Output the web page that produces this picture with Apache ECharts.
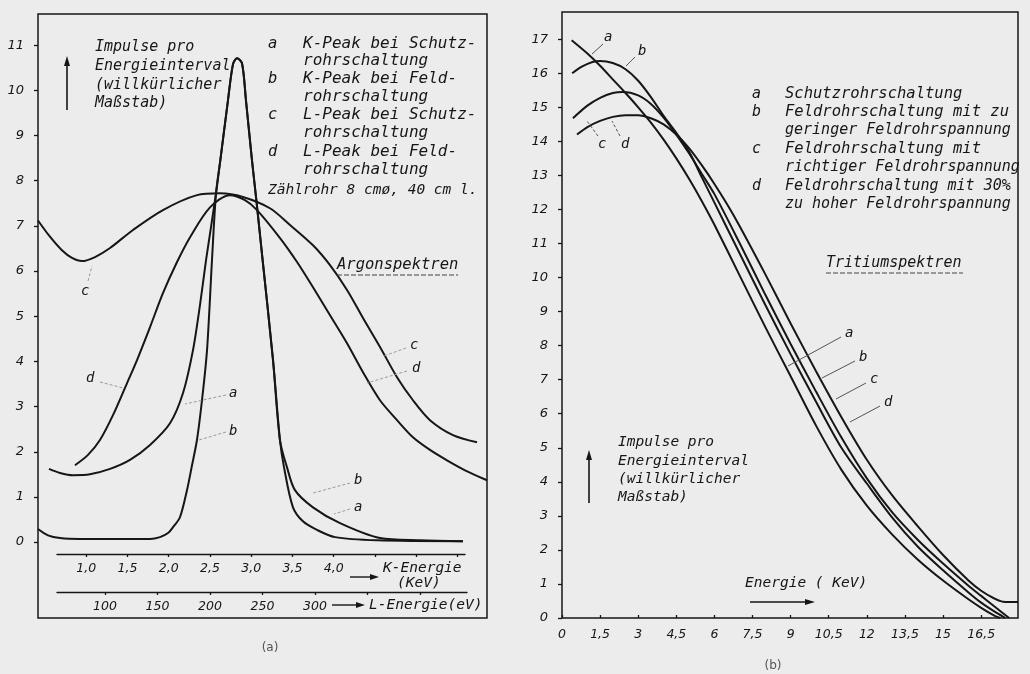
<!DOCTYPE html>
<html><head><meta charset="utf-8">
<script src="https://cdn.jsdelivr.net/npm/echarts@6/dist/echarts.min.js"></script>
<style>html,body{margin:0;padding:0;background:#ececec}#c{width:1030px;height:674px}</style>
</head><body><div id="c"></div><script>
// ---------- DATA (left: Argon spectra) ----------
// K-peaks in K-energy (keV) units
const argonKPeakA = [[0.548,1.62],[0.682,1.53],[0.839,1.48],[1.045,1.50],[1.288,1.62],[1.530,1.82],[1.773,2.15],[2.015,2.63],[2.173,3.30],[2.294,4.25],[2.379,5.25],[2.452,6.24],[2.573,7.72],[2.625,8.45],[2.718,9.78],[2.779,10.58],[2.827,10.71],[2.888,10.60],[2.936,9.78],[3.009,8.45],[3.062,7.57],[3.138,6.24],[3.264,4.03],[3.348,2.26],[3.397,1.66],[3.506,0.77],[3.627,0.46],[3.797,0.27],[4.015,0.11],[4.524,0.04],[5.567,0.02]];
const argonKPeakB = [[0.415,0.29],[0.536,0.15],[0.682,0.09],[0.924,0.07],[1.530,0.07],[1.773,0.07],[1.894,0.11],[1.991,0.20],[2.052,0.33],[2.136,0.55],[2.221,1.15],[2.282,1.70],[2.342,2.26],[2.403,3.14],[2.464,4.25],[2.524,6.24],[2.573,7.72],[2.625,8.45],[2.718,9.78],[2.779,10.58],[2.827,10.71],[2.888,10.60],[2.936,9.78],[3.009,8.45],[3.062,7.57],[3.138,6.24],[3.264,4.03],[3.348,2.26],[3.433,1.66],[3.530,1.15],[3.748,0.77],[4.076,0.42],[4.561,0.09],[5.045,0.04],[5.567,0.02]];
// L-peaks in L-energy (eV) units
const argonLPeakC = [[36.2,7.12],[47.6,6.76],[59.0,6.46],[68.6,6.29],[78.1,6.22],[90.5,6.31],[104.8,6.51],[126.7,6.91],[155.2,7.35],[187.6,7.68],[209.5,7.72],[231.4,7.64],[257.1,7.39],[276.2,7.02],[298.1,6.57],[314.3,6.13],[330.5,5.58],[345.7,4.96],[361.9,4.32],[378.1,3.65],[393.3,3.14],[409.5,2.70],[431.4,2.37],[454.3,2.21]];
const argonLPeakD = [[71.4,1.70],[83.8,1.93],[95.2,2.26],[107.6,2.81],[121.0,3.52],[130.5,4.03],[142.9,4.76],[155.2,5.51],[168.6,6.20],[181.0,6.75],[200.0,7.41],[219.0,7.68],[233.3,7.57],[244.8,7.35],[266.7,6.73],[282.9,6.20],[298.1,5.64],[314.3,5.02],[330.5,4.40],[345.7,3.76],[361.9,3.14],[378.1,2.70],[393.3,2.32],[409.5,2.04],[425.7,1.81],[442.9,1.59],[463.8,1.37]];
const argonYTicks = [0,1,2,3,4,5,6,7,8,9,10,11];
const kEnergyTicks = [1,1.5,2,2.5,3,3.5,4,4.5,5,5.5];
const kEnergyLabels = [1,1.5,2,2.5,3,3.5,4];
const lEnergyTicks = [100,150,200,250,300,350,400];
const lEnergyLabels = [100,150,200,250,300];

// ---------- DATA (right: Tritium spectra) ----------
const tritiumA = [[0.38,16.97],[1.0,16.58],[1.5,16.22],[2.0,15.82],[2.5,15.42],[3.0,15.0],[3.5,14.55],[4.0,14.05],[4.5,13.5],[5.0,12.9],[5.5,12.25],[6.0,11.55],[7.0,10.05],[8.0,8.55],[9.0,7.1],[10.0,5.65],[11.0,4.35],[12.0,3.3],[13.0,2.45],[14.0,1.72],[15.0,1.1],[16.0,0.55],[16.5,0.3],[17.0,0.08],[17.25,0]];
const tritiumB = [[0.4,16.0],[0.8,16.2],[1.2,16.33],[1.5,16.36],[2.0,16.3],[2.5,16.12],[3.0,15.78],[3.5,15.3],[4.0,14.75],[4.5,14.25],[5.0,13.7],[5.5,12.95],[6.0,12.2],[7.0,10.7],[8.0,9.2],[9.0,7.75],[10.0,6.35],[11.0,5.0],[12.0,3.95],[13.0,2.95],[14.0,2.1],[15.0,1.4],[16.0,0.75],[16.5,0.45],[17.0,0.2],[17.45,0]];
const tritiumC = [[0.43,14.68],[1.0,15.05],[1.5,15.28],[2.0,15.42],[2.4,15.45],[3.0,15.35],[3.5,15.1],[4.0,14.7],[4.5,14.2],[5.0,13.65],[5.5,13.05],[6.0,12.45],[7.0,11.0],[8.0,9.5],[9.0,8.05],[10.0,6.65],[11.0,5.3],[12.0,4.1],[13.0,3.1],[14.0,2.3],[15.0,1.6],[16.0,0.95],[16.5,0.65],[17.0,0.35],[17.6,0]];
const tritiumD = [[0.59,14.2],[1.0,14.42],[1.5,14.6],[2.0,14.72],[2.5,14.77],[3.0,14.77],[3.5,14.68],[4.0,14.5],[4.5,14.2],[5.0,13.8],[5.5,13.3],[6.0,12.75],[6.5,12.15],[7.0,11.5],[8.0,10.1],[9.0,8.65],[10.0,7.25],[11.0,5.9],[12.0,4.65],[13.0,3.6],[14.0,2.7],[15.0,1.85],[16.0,1.1],[16.5,0.8],[17.0,0.58],[17.36,0.48],[17.95,0.47]];
const tritiumXTicks = [0,1.5,3,4.5,6,7.5,9,10.5,12,13.5,15,16.5];
const tritiumYTicks = [0,1,2,3,4,5,6,7,8,9,10,11,12,13,14,15,16,17];

// ---------- STYLE ----------
const INK = '#161616';
const MONO = '"DejaVu Sans Mono", monospace';
const NUM = '"DejaVu Sans", sans-serif';
const numLabel = (extra) => Object.assign({color: INK, fontFamily: NUM, fontStyle: 'italic', fontSize: 12.5}, extra);
const comma1 = v => v.toFixed(1).replace('.', ',');
const commaAuto = v => String(v).replace('.', ',');

// ---------- annotations ----------
const G = [];
function T(x, y, s, size, extra) {
  G.push({type: 'text', x: x, y: y, silent: true, z: 10,
    style: Object.assign({text: s, fontSize: size || 15, fontFamily: MONO, fontStyle: 'italic',
      fill: INK, verticalAlign: 'middle', align: 'left'}, extra || {})});
}
function Ln(x1, y1, x2, y2, w, dash, col) {
  G.push({type: 'line', silent: true, z: 10, shape: {x1: x1, y1: y1, x2: x2, y2: y2},
    style: {stroke: col || INK, lineWidth: w || 1.2, lineDash: dash || null}});
}
function Head(pts) { G.push({type: 'polygon', silent: true, z: 10, shape: {points: pts}, style: {fill: INK}}); }

// Left panel: axis title block
Ln(67, 110, 67, 64, 1.6); Head([[67, 56], [64, 66], [70, 66]]);
T(95, 47, 'Impulse pro', 15); T(95, 66, 'Energieinterval', 15);
T(95, 85, '(willkürlicher', 15); T(95, 103, 'Maßstab)', 15);
// Left legend
T(268, 44, 'a', 15.5); T(303, 44, 'K-Peak bei Schutz-', 16);
T(303, 61, 'rohrschaltung', 16);
T(268, 79, 'b', 15.5); T(303, 79, 'K-Peak bei Feld-', 16);
T(303, 97, 'rohrschaltung', 16);
T(268, 115, 'c', 15.5); T(303, 115, 'L-Peak bei Schutz-', 16);
T(303, 133, 'rohrschaltung', 16);
T(268, 152, 'd', 15.5); T(303, 152, 'L-Peak bei Feld-', 16);
T(303, 170, 'rohrschaltung', 16);
T(268, 190, 'Zählrohr 8 cmø, 40 cm l.', 14.5);
T(337, 265, 'Argonspektren', 15.5); Ln(337, 275, 458, 275, 1.1, [5, 2], '#444');
// Left curve labels + leaders
const leadL = '#9a9a9a';
T(81, 291, 'c', 14); Ln(88, 281, 92, 266, 1, [3, 2], leadL);
T(86, 378, 'd', 14); Ln(100, 382, 123, 388, 1, [3, 2], leadL);
T(229, 393, 'a', 14); Ln(226, 395, 185, 404, 1, [3, 2], leadL);
T(229, 431, 'b', 14); Ln(226, 432, 199, 440, 1, [3, 2], leadL);
T(410, 345, 'c', 14); Ln(406, 348, 384, 356, 1, [3, 2], leadL);
T(412, 368, 'd', 14); Ln(407, 371, 367, 383, 1, [3, 2], leadL);
T(354, 480, 'b', 14); Ln(350, 483, 313, 493, 1, [3, 2], leadL);
T(354, 507, 'a', 14); Ln(350, 509, 334, 514, 1, [3, 2], leadL);
// Left bottom axis titles
Ln(350, 577, 371, 577, 1.4); Head([[379, 577], [370, 574], [370, 580]]);
T(383, 568, 'K-Energie', 14.5); T(397, 583, '(KeV)', 14.5);
Ln(332, 605, 357, 605, 1.4); Head([[365, 605], [356, 602], [356, 608]]);
T(369, 605, 'L-Energie(eV)', 14.5);
T(270, 648, '(a)', 12, {fontFamily: NUM, fontStyle: 'normal', fill: '#555', align: 'center'});

// Right panel legend
T(752, 94, 'a', 15); T(785, 94, 'Schutzrohrschaltung', 15.5);
T(752, 112, 'b', 15); T(785, 112, 'Feldrohrschaltung mit zu', 15.5);
T(785, 130, 'geringer Feldrohrspannung', 15);
T(752, 149, 'c', 15); T(785, 149, 'Feldrohrschaltung mit', 15.5);
T(785, 167, 'richtiger Feldrohrspannung', 15);
T(752, 186, 'd', 15); T(785, 186, 'Feldrohrschaltung mit 30%', 15);
T(785, 204, 'zu hoher Feldrohrspannung', 15);
T(826, 263, 'Tritiumspektren', 15); Ln(826, 273, 963, 273, 1.1, [5, 2], '#444');
// Right curve labels + leaders
const leadR = '#555';
T(604, 37, 'a', 14); Ln(603, 44, 592, 54, 1, null, leadR);
T(638, 51, 'b', 14); Ln(635, 57, 626, 66, 1, null, leadR);
T(598, 144, 'c', 14); Ln(598, 136, 587, 121, 1, [3, 2], leadR);
T(621, 144, 'd', 14); Ln(620, 136, 612, 121, 1, [3, 2], leadR);
T(845, 333, 'a', 14); Ln(841, 337, 788, 366, 1, null, leadR);
T(859, 357, 'b', 14); Ln(855, 361, 822, 378, 1, null, leadR);
T(870, 379, 'c', 14); Ln(866, 383, 836, 399, 1, null, leadR);
T(884, 402, 'd', 14); Ln(880, 406, 850, 422, 1, null, leadR);
// Right axis title block
Ln(589, 503, 589, 459, 1.6); Head([[589, 450], [586, 460], [592, 460]]);
T(618, 442, 'Impulse pro', 14.5); T(618, 461, 'Energieinterval', 14.5);
T(618, 479, '(willkürlicher', 14.5); T(618, 497, 'Maßstab)', 14.5);
T(745, 583, 'Energie ( KeV)', 14.5);
Ln(750, 602, 806, 602, 1.4); Head([[815, 602], [805, 599], [805, 605]]);
T(773, 666, '(b)', 12, {fontFamily: NUM, fontStyle: 'normal', fill: '#555', align: 'center'});

// ---------- CHART ----------
const chart = echarts.init(document.getElementById('c'), null, {renderer: 'canvas'});
const curve = (data, xi, yi) => ({
  type: 'line', data: data, xAxisIndex: xi, yAxisIndex: yi, symbol: 'none', smooth: 0.3,
  silent: true, clip: true, lineStyle: {color: INK, width: 2}, z: 3
});
const tickStyle = {color: INK, width: 1.3};
chart.setOption({
  animation: false,
  backgroundColor: '#ececec',
  grid: [
    {left: 38, top: 14, width: 449, height: 604, show: true, borderColor: INK, borderWidth: 1.5, backgroundColor: 'transparent'},
    {left: 57, top: 553, width: 408, height: 1},
    {left: 57, top: 591, width: 410, height: 1},
    {left: 562, top: 12, width: 456, height: 606, show: true, borderColor: INK, borderWidth: 1.5, backgroundColor: 'transparent'}
  ],
  xAxis: [
    {gridIndex: 0, type: 'value', min: 0.415, max: 5.858, show: false},
    {gridIndex: 0, type: 'value', min: 36.19, max: 463.81, show: false},
    {gridIndex: 1, type: 'value', position: 'bottom', min: 0.6455, max: 5.5909,
      axisLine: {lineStyle: {color: INK, width: 1.3}},
      axisTick: {customValues: kEnergyTicks, length: 3, lineStyle: tickStyle},
      axisLabel: numLabel({customValues: kEnergyLabels, formatter: comma1, margin: 8}),
      splitLine: {show: false}},
    {gridIndex: 2, type: 'value', position: 'bottom', min: 54.29, max: 444.76,
      axisLine: {lineStyle: {color: INK, width: 1.3}},
      axisTick: {customValues: lEnergyTicks, length: 3, lineStyle: tickStyle},
      axisLabel: numLabel({customValues: lEnergyLabels, margin: 8}),
      splitLine: {show: false}},
    {gridIndex: 3, type: 'value', min: 0, max: 17.95,
      axisLine: {show: false},
      axisTick: {customValues: tritiumXTicks, inside: true, length: 3, lineStyle: tickStyle},
      axisLabel: numLabel({customValues: tritiumXTicks, formatter: commaAuto, margin: 10}),
      splitLine: {show: false}}
  ],
  yAxis: [
    {gridIndex: 0, type: 'value', min: -1.68, max: 11.69,
      axisLine: {show: false},
      axisTick: {customValues: argonYTicks, length: 4, lineStyle: tickStyle},
      axisLabel: numLabel({customValues: argonYTicks, margin: 14, fontSize: 13}),
      splitLine: {show: false}},
    {gridIndex: 1, type: 'value', show: false},
    {gridIndex: 2, type: 'value', show: false},
    {gridIndex: 3, type: 'value', min: 0, max: 17.8,
      axisLine: {show: false},
      axisTick: {customValues: tritiumYTicks, length: 4, lineStyle: tickStyle},
      axisLabel: numLabel({customValues: tritiumYTicks, margin: 14, fontSize: 13}),
      splitLine: {show: false}}
  ],
  series: [
    curve(argonKPeakA, 0, 0),
    curve(argonKPeakB, 0, 0),
    curve(argonLPeakC, 1, 0),
    curve(argonLPeakD, 1, 0),
    curve(tritiumA, 4, 3),
    curve(tritiumB, 4, 3),
    curve(tritiumC, 4, 3),
    curve(tritiumD, 4, 3)
  ],
  graphic: G
});
</script></body></html>
